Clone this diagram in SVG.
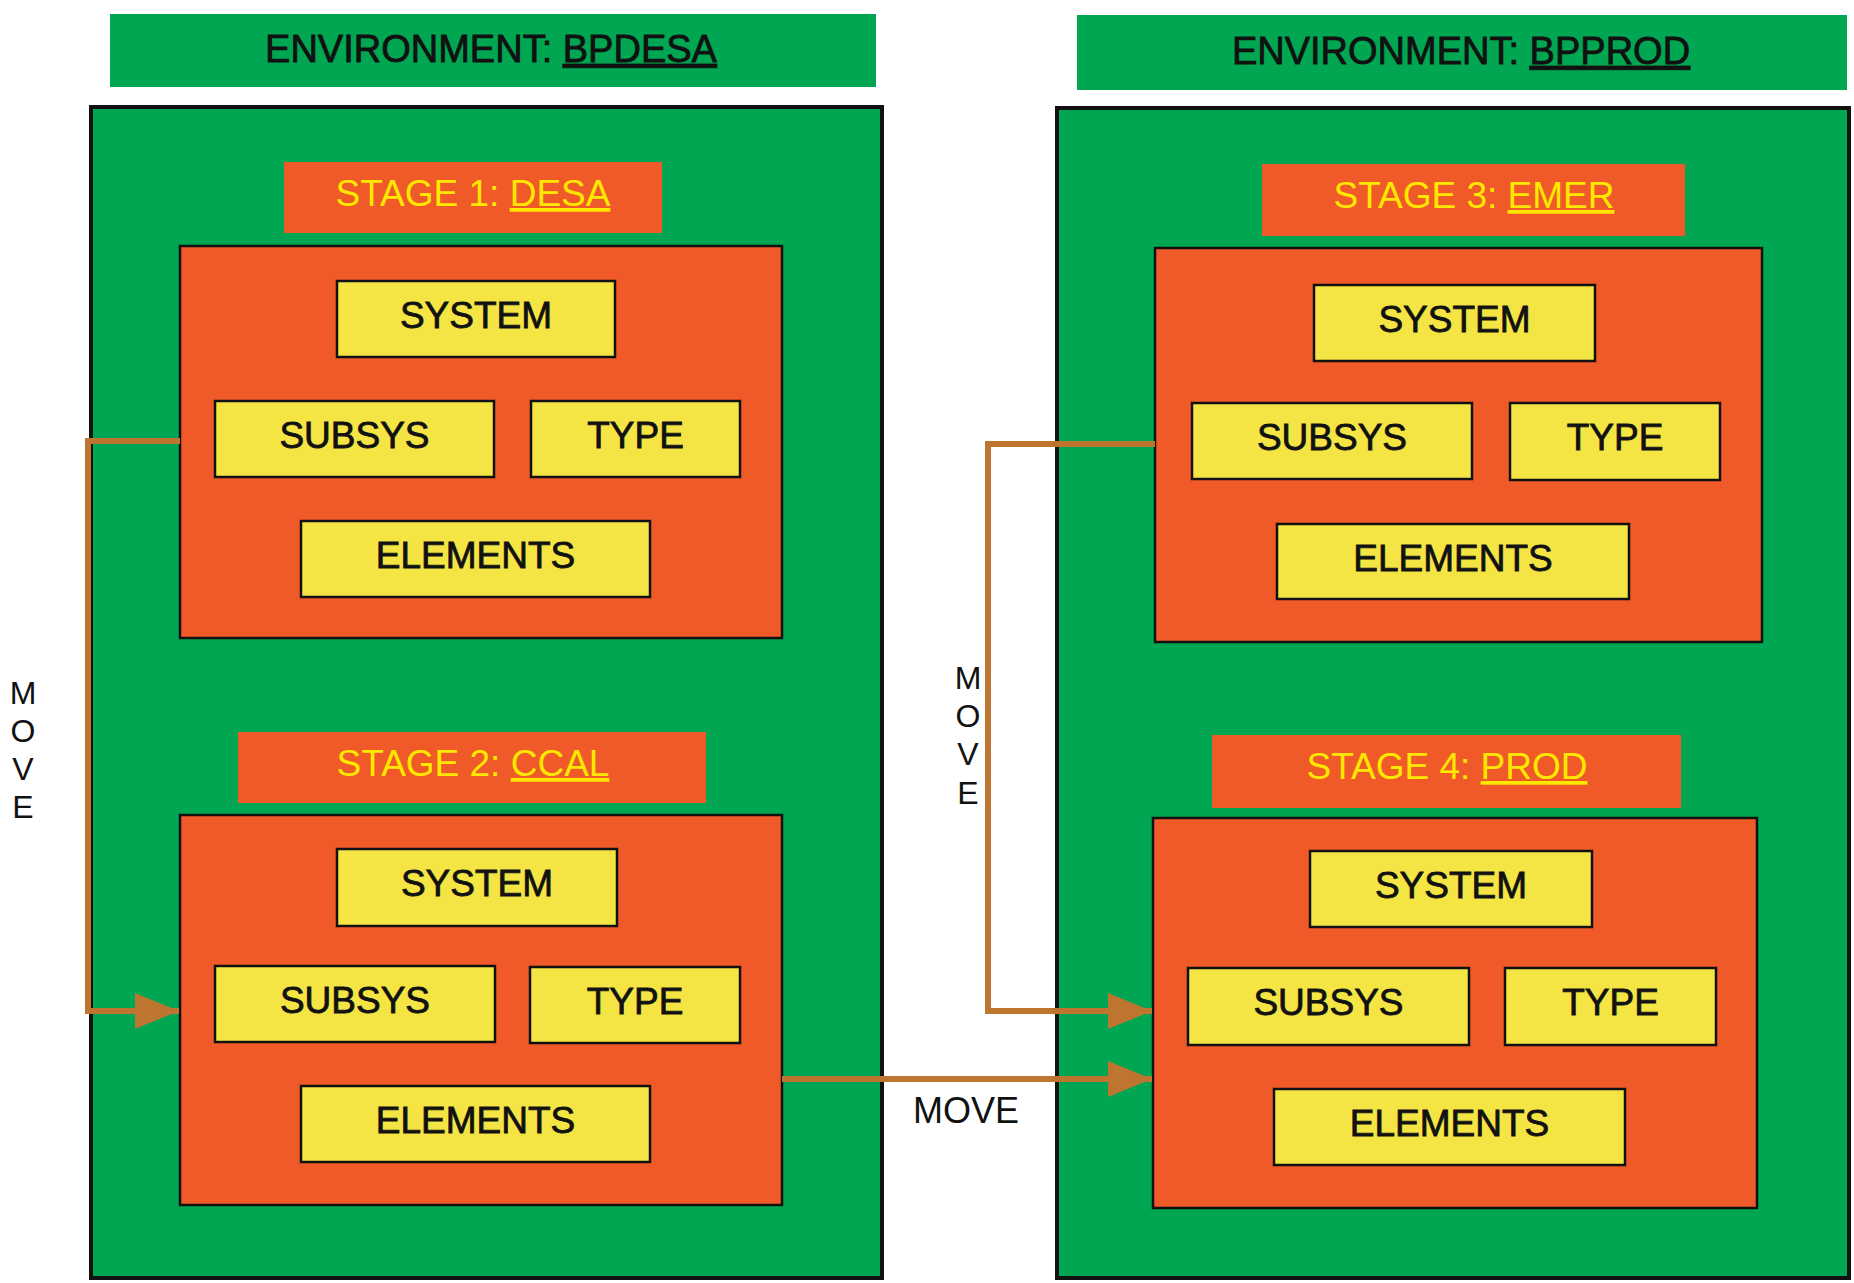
<svg xmlns="http://www.w3.org/2000/svg" width="1854" height="1283" viewBox="0 0 1854 1283">
<style>
.hdr{fill:#00A651}
.env{fill:#00A651;stroke:#111;stroke-width:4}
.stl{fill:#F05A28}
.stb{fill:#F05A28;stroke:#111;stroke-width:2.5}
.itm{fill:#F4E545;stroke:#111;stroke-width:2.5}
.ht{font-family:"Liberation Sans",Arial,sans-serif;font-size:38px;fill:#111;stroke:#111;stroke-width:0.8;text-anchor:middle}
.st{font-family:"Liberation Sans",Arial,sans-serif;font-size:37px;fill:#FFE800;text-anchor:middle}
.it{font-family:"Liberation Sans",Arial,sans-serif;font-size:37px;fill:#111;stroke:#111;stroke-width:0.8;text-anchor:middle}
.mv{font-family:"Liberation Sans",Arial,sans-serif;font-size:32px;fill:#111;text-anchor:middle}
.mh{font-family:"Liberation Sans",Arial,sans-serif;font-size:36px;fill:#111;text-anchor:middle}
.u{text-decoration:underline}
.arr{fill:none;stroke:#BD7530;stroke-width:6}
</style>
<defs>
<marker id="ah" markerUnits="userSpaceOnUse" markerWidth="48" markerHeight="40" refX="44" refY="20" orient="auto">
<path d="M0,2 L44,20 L0,38 Z" fill="#BD7530"/>
</marker>
</defs>
<rect width="1854" height="1283" fill="#fff"/>

<g id="env-bpdesa">
<rect class="hdr" x="110" y="14" width="766" height="73"/>
<text class="ht" x="491" y="62">ENVIRONMENT: <tspan class="u">BPDESA</tspan></text>
<rect class="env" x="91" y="107" width="791" height="1171"/>
</g>
<g id="env-bpprod">
<rect class="hdr" x="1077" y="15" width="770" height="75"/>
<text class="ht" x="1461" y="64">ENVIRONMENT: <tspan class="u">BPPROD</tspan></text>
<rect class="env" x="1057" y="108" width="792" height="1170"/>
</g>

<g id="stage1">
<rect class="stl" x="284" y="162" width="378" height="71"/>
<text class="st" x="473" y="206">STAGE 1: <tspan class="u">DESA</tspan></text>
<rect class="stb" x="180" y="246" width="602" height="392"/>
</g>
<g id="s1-system"><rect class="itm" x="337" y="281" width="278" height="76"/><text class="it" x="476" y="328">SYSTEM</text></g>
<g id="s1-subsys"><rect class="itm" x="215" y="401" width="279" height="76"/><text class="it" x="354.5" y="448">SUBSYS</text></g>
<g id="s1-type"><rect class="itm" x="531" y="401" width="209" height="76"/><text class="it" x="635.5" y="448">TYPE</text></g>
<g id="s1-elements"><rect class="itm" x="301" y="521" width="349" height="76"/><text class="it" x="475.5" y="568">ELEMENTS</text></g>

<g id="stage2">
<rect class="stl" x="238" y="732" width="468" height="71"/>
<text class="st" x="473" y="776">STAGE 2: <tspan class="u">CCAL</tspan></text>
<rect class="stb" x="180" y="815" width="602" height="390"/>
</g>
<g id="s2-system"><rect class="itm" x="337" y="849" width="280" height="77"/><text class="it" x="477" y="896">SYSTEM</text></g>
<g id="s2-subsys"><rect class="itm" x="215" y="966" width="280" height="76"/><text class="it" x="355" y="1013">SUBSYS</text></g>
<g id="s2-type"><rect class="itm" x="530" y="967" width="210" height="76"/><text class="it" x="635" y="1014">TYPE</text></g>
<g id="s2-elements"><rect class="itm" x="301" y="1086" width="349" height="76"/><text class="it" x="475.5" y="1133">ELEMENTS</text></g>

<g id="stage3">
<rect class="stl" x="1262" y="164" width="423" height="72"/>
<text class="st" x="1474" y="208">STAGE 3: <tspan class="u">EMER</tspan></text>
<rect class="stb" x="1155" y="248" width="607" height="394"/>
</g>
<g id="s3-system"><rect class="itm" x="1314" y="285" width="281" height="76"/><text class="it" x="1454.5" y="332">SYSTEM</text></g>
<g id="s3-subsys"><rect class="itm" x="1192" y="403" width="280" height="76"/><text class="it" x="1332" y="450">SUBSYS</text></g>
<g id="s3-type"><rect class="itm" x="1510" y="403" width="210" height="77"/><text class="it" x="1615" y="450">TYPE</text></g>
<g id="s3-elements"><rect class="itm" x="1277" y="524" width="352" height="75"/><text class="it" x="1453" y="571">ELEMENTS</text></g>

<g id="stage4">
<rect class="stl" x="1212" y="735" width="469" height="73"/>
<text class="st" x="1447" y="779">STAGE 4: <tspan class="u">PROD</tspan></text>
<rect class="stb" x="1153" y="818" width="604" height="390"/>
</g>
<g id="s4-system"><rect class="itm" x="1310" y="851" width="282" height="76"/><text class="it" x="1451" y="898">SYSTEM</text></g>
<g id="s4-subsys"><rect class="itm" x="1188" y="968" width="281" height="77"/><text class="it" x="1328.5" y="1015">SUBSYS</text></g>
<g id="s4-type"><rect class="itm" x="1505" y="968" width="211" height="77"/><text class="it" x="1610.5" y="1015">TYPE</text></g>
<g id="s4-elements"><rect class="itm" x="1274" y="1089" width="351" height="76"/><text class="it" x="1449.5" y="1136">ELEMENTS</text></g>

<g id="connectors">
<path class="arr" d="M180,441 H88 V1011 H179" marker-end="url(#ah)"/>
<path class="arr" d="M1155,444 H988 V1011 H1152" marker-end="url(#ah)"/>
<path class="arr" d="M782,1079 H1152" marker-end="url(#ah)"/>
<text class="mv" x="23" y="704">M</text>
<text class="mv" x="23" y="742">O</text>
<text class="mv" x="23" y="780">V</text>
<text class="mv" x="23" y="818">E</text>
<text class="mv" x="968" y="689">M</text>
<text class="mv" x="968" y="727">O</text>
<text class="mv" x="968" y="765">V</text>
<text class="mv" x="968" y="804">E</text>
<text class="mh" x="966" y="1123">MOVE</text>
</g>
</svg>
